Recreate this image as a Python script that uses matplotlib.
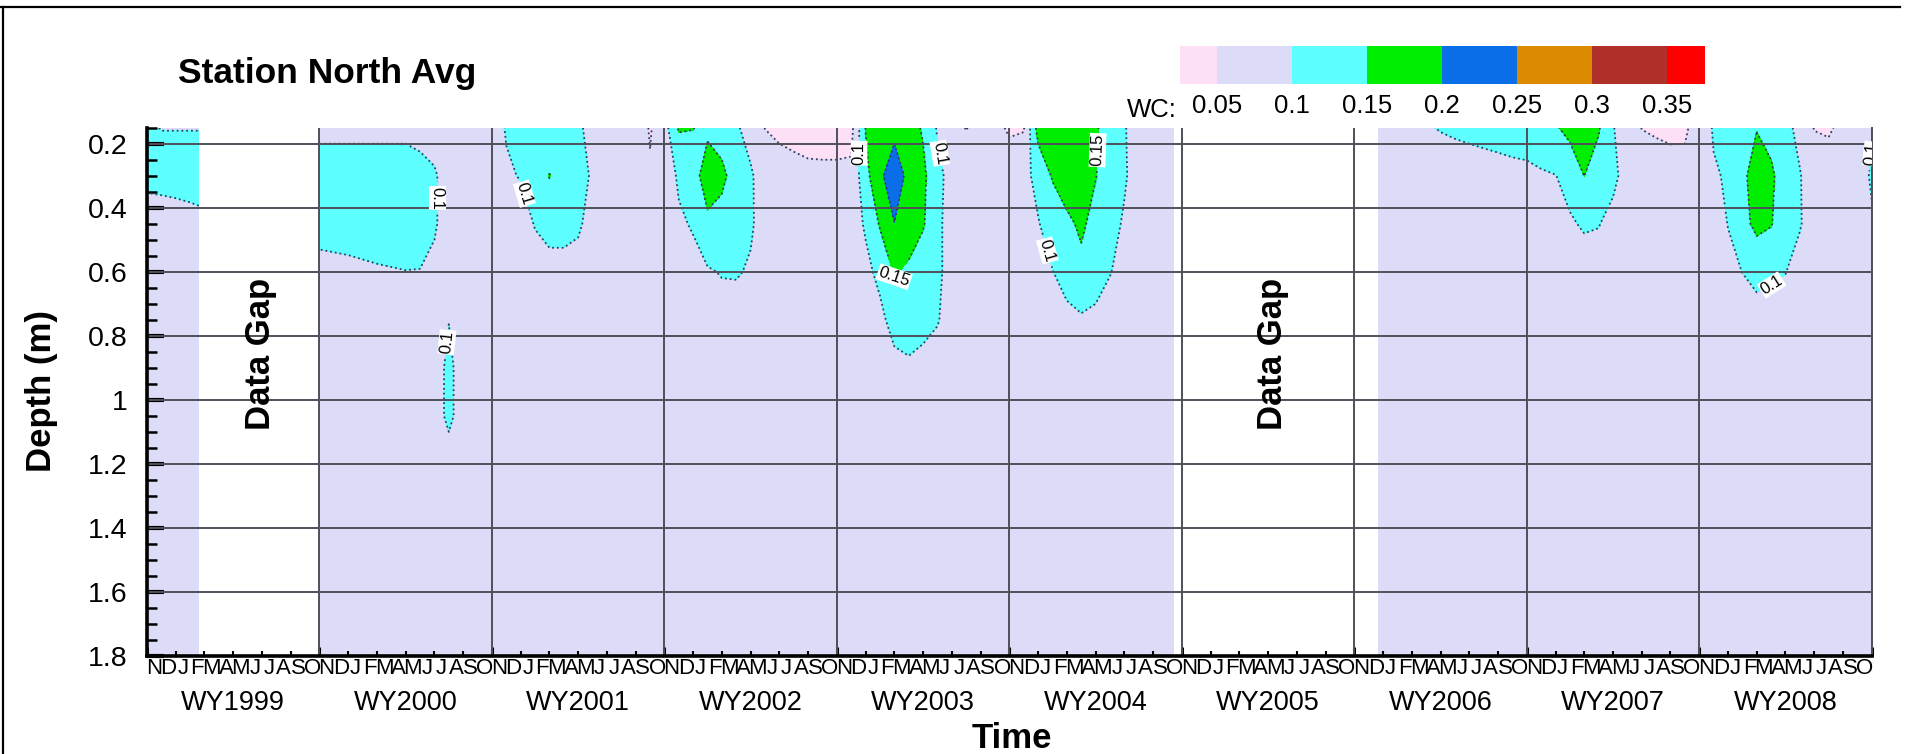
import numpy as np
import matplotlib
matplotlib.use('Agg')
import matplotlib.pyplot as plt
import matplotlib.transforms as mtransforms
from matplotlib.colors import ListedColormap, BoundaryNorm
from matplotlib.cm import ScalarMappable
from matplotlib.lines import Line2D

plt.rcParams['font.family'] = ['Liberation Sans', 'DejaVu Sans']

W, H = 1905, 754

# probe depths below the surface (m)
depths = [0.15, 0.3, 0.45, 0.6, 0.75, 0.9, 1.05, 1.2, 1.8]

# months counted from the start of WY1999; one WC profile (% by volume) per row,
# listed at the depths above
run1_months = [0, 1, 2, 3, 3.6]
run1_wc = [
    [10.5, 11.5, 7.3, 8, 8, 8, 8, 8, 8],
    [9.9, 11.5, 7.8, 8, 8, 8, 8, 8, 8],
    [9.9, 11.5, 8.3, 8, 8, 8, 8, 8, 8],
    [9.9, 11.5, 8.8, 8, 8, 8, 8, 8, 8],
    [9.9, 11.5, 9.1, 8, 8, 8, 8, 8, 8],
]

run2_months = [12, 14, 16, 18, 19, 20, 21, 22, 24, 25, 26, 27, 28, 29, 30, 31, 32,
               34, 35, 36, 37, 38, 39, 40, 41, 42, 43, 44, 45, 46, 47, 48, 49, 50,
               51, 52, 53, 54, 55, 56, 57, 58, 59, 60, 61, 62, 63, 64, 65, 66, 67,
               68, 69, 71.4]
run2_wc = [
    [9.0, 12, 11.5, 8.7, 8, 8, 8, 8, 8],
    [9.0, 12, 11.5, 9.2, 8, 8, 8, 8, 8],
    [9.0, 12, 11.5, 9.7, 8, 8, 8, 8, 8],
    [9.0, 12, 11.5, 9.95, 8, 8, 8, 8, 8],
    [8.5, 11.5, 11.5, 9.9, 8, 8, 8, 8, 8],
    [8, 10.5, 10.5, 9.0, 8, 8, 8, 8, 8],
    [8, 8, 8, 8, 9.9, 11, 11, 8, 8],
    [8, 8, 8, 8, 8, 8, 8, 8, 8],
    [8, 8, 8, 8, 8, 8, 8, 8, 8],
    [10.3, 9.5, 8, 8, 8, 8, 8, 8, 8],
    [11, 10.2, 8.5, 8, 8, 8, 8, 8, 8],
    [11, 12, 10.2, 8.5, 8, 8, 8, 8, 8],
    [11, 15.2, 11.5, 8.5, 8, 8, 8, 8, 8],
    [11, 12, 11.5, 8.5, 8, 8, 8, 8, 8],
    [10.5, 11.5, 10.6, 8.5, 8, 8, 8, 8, 8],
    [9, 9.5, 8.5, 8, 8, 8, 8, 8, 8],
    [8, 8, 8, 8, 8, 8, 8, 8, 8],
    [8, 8, 8, 8, 8, 8, 8, 8, 8],
    [4.6, 5.5, 8, 8, 8, 8, 8, 8, 8],
    [8, 8, 8, 8, 8, 8, 8, 8, 8],
    [15.5, 10.5, 9.5, 8, 8, 8, 8, 8, 8],
    [15.1, 13.0, 10.3, 9, 8, 8, 8, 8, 8],
    [14.0, 17.5, 14.0, 9.5, 8, 8, 8, 8, 8],
    [12, 16.5, 12.5, 10.3, 8, 8, 8, 8, 8],
    [10.5, 12, 11.5, 10.4, 8, 8, 8, 8, 8],
    [8.5, 10.5, 10.6, 9.5, 8, 8, 8, 8, 8],
    [4.9, 8, 8, 8, 8, 8, 8, 8, 8],
    [4.0, 7, 8, 8, 8, 8, 8, 8, 8],
    [3.5, 6.5, 8, 8, 8, 8, 8, 8, 8],
    [3.2, 6.0, 8, 8, 8, 8, 8, 8, 8],
    [3.0, 6.0, 8, 8, 8, 8, 8, 8, 8],
    [3.0, 6.0, 8, 8, 8, 8, 8, 8, 8],
    [3.5, 6.0, 8, 8, 8, 8, 8, 8, 8],
    [15.2, 13.5, 10.5, 9, 8, 8, 8, 8, 8],
    [17, 19, 15.5, 11, 9, 8, 8, 8, 8],
    [18.5, 23, 19.9, 15.5, 11.5, 8.8, 8, 8, 8],
    [17, 18.5, 18, 14, 11.5, 9.5, 8, 8, 8],
    [14.5, 16, 15.5, 12, 11, 9.0, 8, 8, 8],
    [9.5, 11.5, 11, 11, 10.3, 8, 8, 8, 8],
    [7, 8, 8, 8, 8, 8, 8, 8, 8],
    [4.8, 8, 8, 8, 8, 8, 8, 8, 8],
    [7, 8, 8, 8, 8, 8, 8, 8, 8],
    [6, 8, 8, 8, 8, 8, 8, 8, 8],
    [4.5, 7, 8, 8, 8, 8, 8, 8, 8],
    [4.6, 9, 8, 8, 8, 8, 8, 8, 8],
    [17, 11, 9.8, 8.5, 8, 8, 8, 8, 8],
    [18, 15.5, 11.5, 9.9, 8, 8, 8, 8, 8],
    [18, 17.5, 14, 11.5, 9, 8, 8, 8, 8],
    [17.5, 17.5, 15.8, 13.8, 9.4, 8, 8, 8, 8],
    [15.5, 15.2, 13.5, 12, 9, 8, 8, 8, 8],
    [13, 12.5, 11.5, 10.2, 8, 8, 8, 8, 8],
    [10.3, 10.5, 9.5, 8.5, 8, 8, 8, 8, 8],
    [8, 8, 8, 8, 8, 8, 8, 8, 8],
    [8, 8, 8, 8, 8, 8, 8, 8, 8],
]

run3_months = [85.7, 88, 89, 90, 91, 92, 93, 94, 95, 96, 97, 98, 99, 100, 101, 102,
               103, 104, 105, 106, 107, 108, 109, 110, 111, 112, 113, 114, 115, 116,
               117, 118, 119, 120]
run3_wc = [
    [8, 8, 8, 8, 8, 8, 8, 8, 8],
    [8, 8, 8, 8, 8, 8, 8, 8, 8],
    [9.7, 8, 8, 8, 8, 8, 8, 8, 8],
    [10.2, 8, 8, 8, 8, 8, 8, 8, 8],
    [10.6, 8, 8, 8, 8, 8, 8, 8, 8],
    [11, 8, 8, 8, 8, 8, 8, 8, 8],
    [11.2, 8.4, 8, 8, 8, 8, 8, 8, 8],
    [11.4, 8.7, 8, 8, 8, 8, 8, 8, 8],
    [11.6, 9.0, 8, 8, 8, 8, 8, 8, 8],
    [11.7, 9.2, 8, 8, 8, 8, 8, 8, 8],
    [13, 9.5, 8, 8, 8, 8, 8, 8, 8],
    [14.5, 9.9, 8.5, 8, 8, 8, 8, 8, 8],
    [16.5, 11.5, 9.5, 8, 8, 8, 8, 8, 8],
    [17, 15.05, 10.5, 8, 8, 8, 8, 8, 8],
    [15.5, 12.5, 10.2, 8, 8, 8, 8, 8, 8],
    [10.2, 11.2, 8.5, 8, 8, 8, 8, 8, 8],
    [8, 8, 8, 8, 8, 8, 8, 8, 8],
    [4.9, 7.5, 8, 8, 8, 8, 8, 8, 8],
    [4.6, 6.5, 8, 8, 8, 8, 8, 8, 8],
    [4.2, 6.5, 8, 8, 8, 8, 8, 8, 8],
    [4.5, 6, 8, 8, 8, 8, 8, 8, 8],
    [6.5, 8, 8, 8, 8, 8, 8, 8, 8],
    [10.5, 9.5, 8, 8, 8, 8, 8, 8, 8],
    [12, 10.5, 10.1, 9, 8, 8, 8, 8, 8],
    [13, 14.0, 13.5, 10.05, 8, 8, 8, 8, 8],
    [14.8, 17.1, 16.2, 11.5, 8, 8, 8, 8, 8],
    [13, 16.0, 15.3, 10.8, 8, 8, 8, 8, 8],
    [11, 12, 12, 10.1, 8, 8, 8, 8, 8],
    [9, 10.2, 10.3, 8.5, 8, 8, 8, 8, 8],
    [4.8, 8, 8, 8, 8, 8, 8, 8, 8],
    [4.5, 7, 8, 8, 8, 8, 8, 8, 8],
    [6, 8, 8, 8, 8, 8, 8, 8, 8],
    [8, 8, 8, 8, 8, 8, 8, 8, 8],
    [9.5, 10.5, 9.5, 8, 8, 8, 8, 8, 8],
]

# where the contour values get written (month, depth)
run2_labels = {0.1: [(20.4, 0.37), (20.9, 0.82), (26.7, 0.35), (49.6, 0.23),
                     (55.1, 0.23), (62.9, 0.53)],
               0.15: [(51.6, 0.62), (66.2, 0.22)]}
run3_labels = {0.1: [(113.2, 0.65), (119.7, 0.23)]}

wc_bounds = [0.05, 0.1, 0.15, 0.2, 0.25, 0.3, 0.35]
wc_ticklabels = ['0.05', '0.1', '0.15', '0.2', '0.25', '0.3', '0.35']
line_levels = [0.05, 0.1, 0.15, 0.2]
fill_colors = ['#fde0f6', '#dcdcf8', '#5effff', '#00ee00', '#0a6ee8',
               '#dc8a00', '#b0302a', '#ff0000']

depth_ticks = [0.2, 0.4, 0.6, 0.8, 1.0, 1.2, 1.4, 1.6, 1.8]
depth_ticklabels = ['0.2', '0.4', '0.6', '0.8', '1', '1.2', '1.4', '1.6', '1.8']
water_years = ['WY1999', 'WY2000', 'WY2001', 'WY2002', 'WY2003',
               'WY2004', 'WY2005', 'WY2006', 'WY2007', 'WY2008']
month_letters = ['N', 'D', 'J', 'F', 'M', 'A', 'M', 'J', 'J', 'A', 'S', 'O']
gap_months = [7.9, 78.3]

grid_c = '#50505a'

fig = plt.figure(figsize=(W / 100, H / 100), dpi=100)
ax = fig.add_axes([147 / W, 1 - 656 / H, (1871.7 - 147) / W, (656 - 127.7) / H])
ax.set_xlim(0, 120)
ax.set_ylim(1.8, 0.15)

levels = [0.0] + wc_bounds + [0.6]
runs = [(run1_months, run1_wc, {}),
        (run2_months, run2_wc, run2_labels),
        (run3_months, run3_wc, run3_labels)]
for months, wc, spots in runs:
    T, D = np.meshgrid(months, depths)
    Z = np.array(wc, dtype=float).T / 100.0
    ax.contourf(T, D, Z, levels=levels, colors=fill_colors, zorder=1)
    # one line set per level so each can carry its own labels
    for lev in line_levels:
        if Z.min() >= lev or Z.max() <= lev:
            continue
        cs = ax.contour(T, D, Z, levels=[lev], colors='#38385a',
                        linewidths=1.3, linestyles=':', zorder=2)
        pts = spots.get(lev)
        if pts:
            txts = ax.clabel(cs, manual=pts, inline=True,
                             fmt=lambda v: f'{v:g}', fontsize=12, colors='black')
            for t in txts:
                t.set_bbox(dict(facecolor='white', edgecolor='none', pad=0.6))
                t.set_zorder(5)

# grid over the fill
for d in depth_ticks[:-1]:
    ax.axhline(d, color=grid_c, lw=1.4, zorder=3)
for m in range(12, 121, 12):
    ax.axvline(m, color=grid_c, lw=1.4, zorder=3)

for gm in gap_months:
    ax.text(gm, 0.856, 'Data Gap', rotation=90, fontsize=25, fontweight='bold',
            ha='center', va='center', zorder=4)

# axes styling
ax.spines['top'].set_visible(False)
ax.spines['right'].set_color(grid_c)
ax.spines['right'].set_linewidth(1.4)
for s in ('left', 'bottom'):
    ax.spines[s].set_linewidth(2.6)
    ax.spines[s].set_zorder(6)

ax.set_xticks(np.arange(0, 121, 12))
ax.set_xticks(np.arange(0, 121, 2), minor=True)
ax.tick_params(axis='x', which='both', direction='in', labelbottom=False)
ax.tick_params(axis='x', which='major', length=6.5, width=2.2)
ax.tick_params(axis='x', which='minor', length=3.5, width=1.5)

ax.set_yticks(depth_ticks)
ax.set_yticklabels(depth_ticklabels)
ax.set_yticks(np.arange(0.15, 1.81, 0.05), minor=True)
ax.tick_params(axis='y', which='both', direction='in', right=False)
ax.tick_params(axis='y', which='major', length=12, width=3, labelsize=20.5, pad=14)
ax.tick_params(axis='y', which='minor', length=7, width=1.8)

# month letters and water year names under the axis
trans = mtransforms.blended_transform_factory(ax.transData, ax.transAxes)
for y, wy in enumerate(water_years):
    for i, letter in enumerate(month_letters):
        ax.text(y * 12 + i + 0.5, -0.0341, letter, transform=trans, ha='center',
                va='baseline', fontsize=16,
                family=['Liberation Sans Narrow', 'Liberation Sans'])
    ax.text(y * 12 + 6, -0.1022, wy, transform=trans, ha='center', va='baseline',
            fontsize=19.5)

fig.text(178 / W, 1 - 83 / H, 'Station North Avg', fontsize=25.5, fontweight='bold',
         ha='left', va='baseline')
fig.text(42 / W, 1 - 391 / H, 'Depth (m)', rotation=90, fontsize=25,
         fontweight='bold', ha='center', va='center')
fig.text(1012 / W, 1 - 748 / H, 'Time', fontsize=25, fontweight='bold',
         ha='center', va='baseline')

# legend bar; the end boxes sit inside the axes in current matplotlib
cb_cmap = ListedColormap(fill_colors[1:-1])
cb_cmap.set_under(fill_colors[0])
cb_cmap.set_over(fill_colors[-1])
cb_norm = BoundaryNorm(wc_bounds, cb_cmap.N)
cax = fig.add_axes([1179.6 / W, 1 - 84 / H, (1705 - 1179.6) / W, 38 / H])
cb = fig.colorbar(ScalarMappable(norm=cb_norm, cmap=cb_cmap), cax=cax,
                  orientation='horizontal', extend='both', extendrect=True,
                  extendfrac=0.5 / 6, ticks=wc_bounds)
cb.outline.set_visible(False)
cb.set_ticklabels(wc_ticklabels)
cb.ax.tick_params(length=0, labelsize=18.5, pad=7)
fig.text(1177 / W, 1 - 117 / H, 'WC:', ha='right', va='baseline', fontsize=18.5)

# page frame
fig.add_artist(Line2D([0, 1900 / W], [1 - 7 / H, 1 - 7 / H], color='black', lw=1.6,
                      transform=fig.transFigure))
fig.add_artist(Line2D([3 / W, 3 / W], [0, 1 - 7 / H], color='black', lw=1.6,
                      transform=fig.transFigure))

fig.savefig('out.png', dpi=100)
